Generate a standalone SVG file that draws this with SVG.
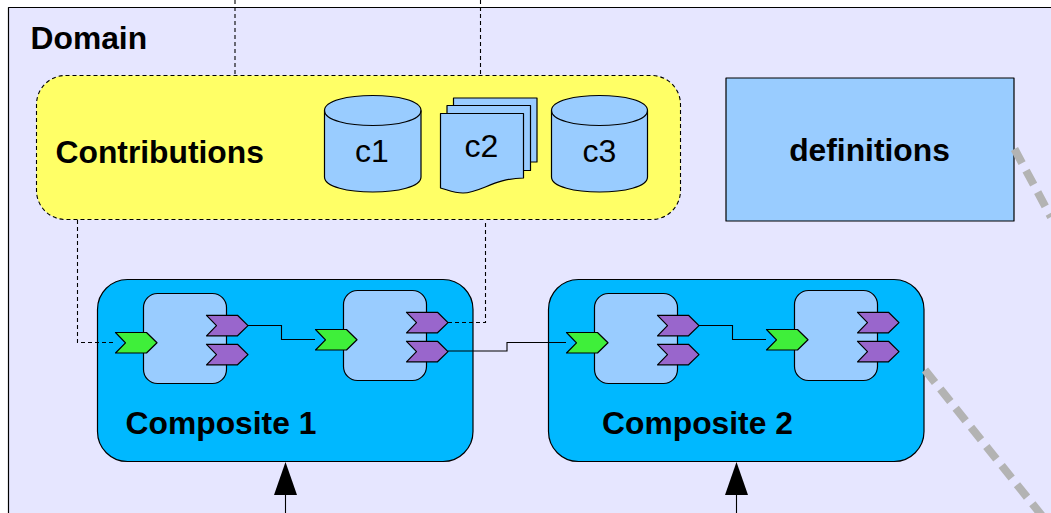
<svg xmlns="http://www.w3.org/2000/svg" width="1051" height="513" viewBox="0 0 1051 513">
<style>
text{font-family:"Liberation Sans",Arial,sans-serif;fill:#000}
.b{font-weight:bold;font-size:31.800px}
.n{font-size:32px}
.s{stroke:#000;stroke-width:1.2;stroke-linejoin:round}
.blue{fill:#99ccff}
.comp{fill:#00b8ff}
.in{fill:#99ccff}
.pur{fill:#9966cc}
.gre{fill:#3fef3a}
.c{fill:none;stroke:#000;stroke-width:1.1}
.d{stroke-dasharray:4 3}
.g{fill:none;stroke:#b3b3b3;stroke-width:8;stroke-dasharray:16 8.500}
</style>
<defs>
<path id="chev" d="M0 0H31L41.500 10.300L31 20.500H0L10 10.300Z"/>
</defs>
<rect width="1051" height="513" fill="#fff"/>
<g id="domain">
<rect class="s" x="8.500" y="7.500" width="1060" height="530" fill="#e6e6ff"/>
<text class="b" x="30.500" y="48.500">Domain</text>
</g>
<g id="contributions">
<rect x="36.500" y="75.500" width="644" height="144" rx="29" fill="#ffff66" stroke="#000" stroke-width="1.1" stroke-dasharray="4 3"/>
<text class="b" x="55.500" y="162.500">Contributions</text>
</g>
<g id="c1">
<path class="s blue" d="M324.500 110.500C324.500 90.500 421 90.500 421 110.500V177C421 197 324.500 197 324.500 177Z"/>
<path class="s" fill="none" d="M324.500 110.500C324.500 130.500 421 130.500 421 110.500"/>
<text class="n" x="372" y="162" text-anchor="middle">c1</text>
</g>
<g id="c2">
<rect class="s blue" x="453.500" y="98" width="83.500" height="64"/>
<rect class="s blue" x="447" y="105.500" width="83.500" height="65"/>
<path class="s blue" d="M440.500 113.500H523.500V178C495 178 480 193 463 193C454 193 448 190 440.500 188Z"/>
<text class="n" x="481.500" y="157" text-anchor="middle">c2</text>
</g>
<g id="c3">
<path class="s blue" d="M551.500 110.500C551.500 90.500 647.500 90.500 647.500 110.500V177C647.500 197 551.500 197 551.500 177Z"/>
<path class="s" fill="none" d="M551.500 110.500C551.500 130.500 647.500 130.500 647.500 110.500"/>
<text class="n" x="599.500" y="162" text-anchor="middle">c3</text>
</g>
<g id="definitions">
<rect class="s blue" x="726" y="78" width="288" height="143"/>
<text class="b" x="869.500" y="160.500" text-anchor="middle">definitions</text>
</g>
<g id="composite1">
<rect class="s comp" x="97.500" y="279.500" width="375.500" height="182" rx="30"/>
<text class="b" x="221" y="433.500" text-anchor="middle">Composite 1</text>
<rect class="s in" x="143.500" y="293.500" width="83" height="90" rx="14"/>
<rect class="s in" x="343.500" y="290.500" width="83" height="90" rx="14"/>
<use href="#chev" class="s gre" x="115.500" y="332.500"/>
<use href="#chev" class="s pur" x="206.500" y="315.300"/>
<use href="#chev" class="s pur" x="206.500" y="344.300"/>
<use href="#chev" class="s gre" x="315.500" y="329.500"/>
<use href="#chev" class="s pur" x="406.500" y="312.300"/>
<use href="#chev" class="s pur" x="406.500" y="341.300"/>
</g>
<g id="composite2">
<rect class="s comp" x="548.500" y="279.500" width="375.500" height="182" rx="30"/>
<text class="b" x="697.500" y="433.500" text-anchor="middle">Composite 2</text>
<rect class="s in" x="594.500" y="293.500" width="83" height="90" rx="14"/>
<rect class="s in" x="794.500" y="290.500" width="83" height="90" rx="14"/>
<use href="#chev" class="s gre" x="566.500" y="332.500"/>
<use href="#chev" class="s pur" x="657.500" y="315.300"/>
<use href="#chev" class="s pur" x="657.500" y="344.300"/>
<use href="#chev" class="s gre" x="766.500" y="329.500"/>
<use href="#chev" class="s pur" x="857.500" y="312.300"/>
<use href="#chev" class="s pur" x="857.500" y="341.300"/>
</g>
<g id="connectors">
<path class="c d" d="M235 0V75M480.500 0V75"/>
<path class="c d" d="M77.500 220V342.500H115"/>
<path class="c d" d="M448 322.500H485.500V220"/>
<path class="c" d="M248 325.500H281.500V339.500H315"/>
<path class="c" d="M699 325.500H732.500V339.500H766"/>
<path class="c" d="M448 351H507V342.500H566"/>
<path class="g" d="M1014.500 149L1051 217"/>
<path class="g" d="M925 370L1051 527"/>
<path class="c" d="M285.500 513V494M736.500 513V494"/>
<path d="M285.500 462L274 495H297Z" fill="#000"/>
<path d="M736.500 462L725 495H748Z" fill="#000"/>
</g>
</svg>
